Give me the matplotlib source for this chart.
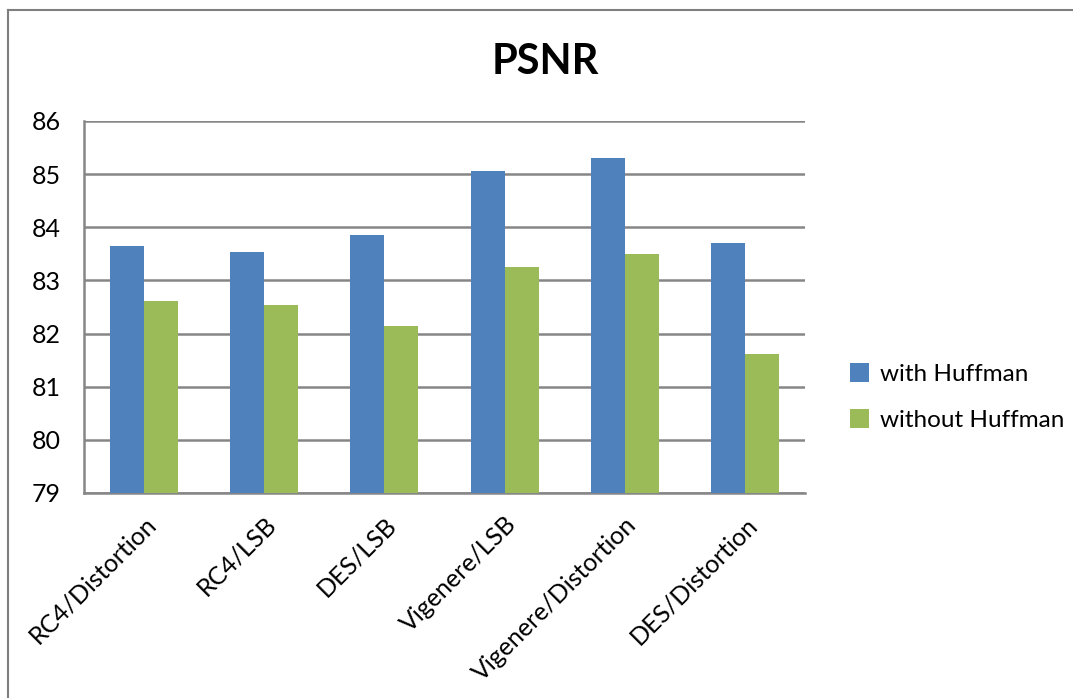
import matplotlib
matplotlib.use("Agg")
import matplotlib.pyplot as plt
from matplotlib.lines import Line2D
import numpy as np

plt.rcParams['font.family'] = ['Lato', 'DejaVu Sans']

methods = ["RC4/Distortion", "RC4/LSB", "DES/LSB", "Vigenere/LSB",
           "Vigenere/Distortion", "DES/Distortion"]
with_huffman = [83.64, 83.54, 83.85, 85.05, 85.30, 83.70]
without_huffman = [82.62, 82.53, 82.15, 83.26, 83.50, 81.62]
series_names = ["with Huffman", "without Huffman"]
yticks = [79, 80, 81, 82, 83, 84, 85, 86]

blue = "#4f81bd"
green = "#9bbb59"
gridc = "#868686"

fig = plt.figure(figsize=[10.73, 6.98], dpi=100)
W, H = 1073, 698
# plot area in pixels: x 84..805, y 121..493
ax = fig.add_axes([84 / W, 1 - 493 / H, (805 - 84) / W, (493 - 121) / H])

x = np.arange(len(methods))
bw = 0.283
ax.bar(x - bw / 2, np.array(with_huffman) - 79, bw, bottom=79, color=blue,
       label=series_names[0], zorder=3)
ax.bar(x + bw / 2, np.array(without_huffman) - 79, bw, bottom=79, color=green,
       label=series_names[1], zorder=3)

ax.set_xlim(-0.5, len(methods) - 0.5)
ax.set_ylim(79, 86)
ax.set_yticks(yticks)
ax.yaxis.grid(True, color=gridc, linewidth=1.8, zorder=0)
ax.set_axisbelow(True)
for s in ["top", "right"]:
    ax.spines[s].set_visible(False)
for s in ["left", "bottom"]:
    ax.spines[s].set_color(gridc)
    ax.spines[s].set_linewidth(1.8)
ax.tick_params(axis="y", length=0, pad=17, labelsize=18)
ax.tick_params(axis="x", length=0, pad=14, labelsize=18)
ax.set_xticks(x)
ax.set_xticklabels(methods, rotation=45, ha="right", rotation_mode="anchor")

fig.text(545 / W, 1 - 62 / H, "PSNR", ha="center", va="center",
         fontsize=30, fontweight="bold")

ax.legend(loc="center left", bbox_to_anchor=(828 / W, 1 - 397 / H),
          bbox_transform=fig.transFigure, frameon=False, fontsize=17.5,
          handlelength=0.8, handleheight=0.8, handletextpad=0.45,
          labelspacing=1.0)

# page frame: top and left edges
for xs, ys in [([8, 1073], [10, 10]), ([8, 8], [10, 698])]:
    fig.add_artist(Line2D([v / W for v in xs], [1 - v / H for v in ys],
                          color="#7f7f7f", linewidth=1.5))

fig.savefig("out.png", dpi=100)
